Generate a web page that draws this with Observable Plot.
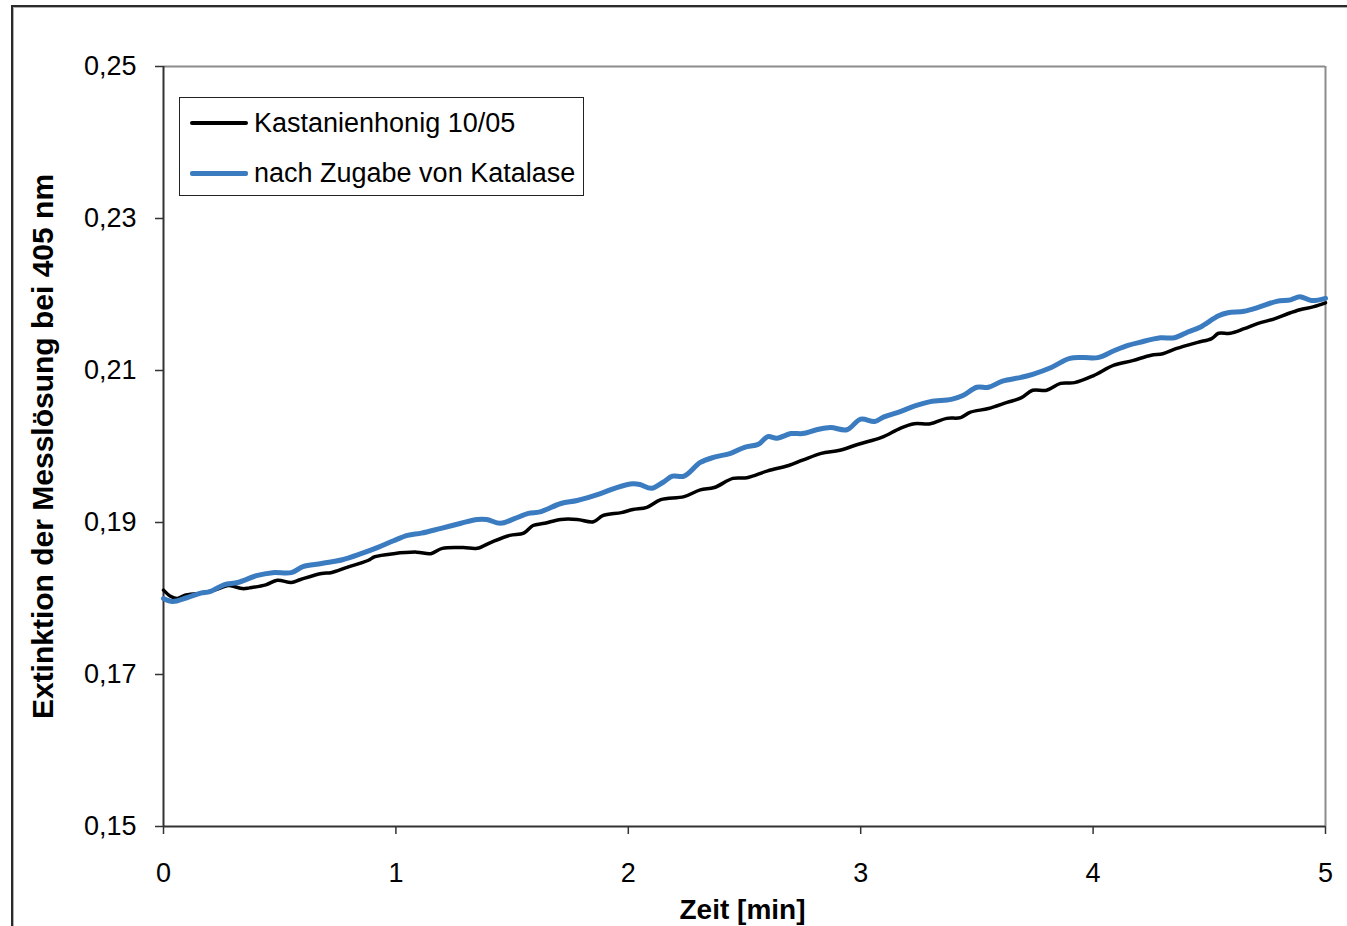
<!DOCTYPE html>
<html>
<head>
<meta charset="utf-8">
<script src="https://cdn.jsdelivr.net/npm/d3@7"></script>
<script src="https://cdn.jsdelivr.net/npm/@observablehq/plot@0.6"></script>
<style>
  html, body { margin: 0; padding: 0; background: #fff; }
  #wrap { position: relative; width: 1347px; height: 926px; overflow: hidden; background: #fff; }
  #outer { position: absolute; left: 11px; top: 5px; width: 1400px; height: 1000px;
           border: 2px solid #2a2a2a; box-shadow: inset 0 0 0 1px #b0b0b0; pointer-events: none; }
  #chart { position: absolute; left: 0; top: 0; }
  #legend { position: absolute; left: 179px; top: 97px; width: 405px; height: 99px;
            border: 1px solid #222; background: #fff; box-sizing: border-box;
            font-family: "Liberation Sans", Arial, sans-serif; font-size: 27px; color: #000; }
  .item { position: absolute; left: 10px; height: 30px; display: flex; align-items: center; }
  .swatch { width: 58px; margin-right: 6px; border-radius: 2px; }
</style>
</head>
<body>
<div id="wrap">
  <div id="chart"></div>
  <div id="legend"></div>
  <div id="outer"></div>
</div>
<script>
// Series labels and colours
const seriesNames = ["Kastanienhonig 10/05", "nach Zugabe von Katalase"];
const seriesColors = ["#000000", "#3b7bc0"];
const seriesWidths = [3.5, 5];

// Axis ticks
const xTicks = [0, 1, 2, 3, 4, 5];
const yTicks = [0.15, 0.17, 0.19, 0.21, 0.23, 0.25];

// Kastanienhonig 10/05: time [min] and extinction at 405 nm
const timeHonig = [0.00, 0.03, 0.06, 0.09, 0.16, 0.22, 0.28, 0.34, 0.37, 0.44, 0.49, 0.55, 0.59, 0.68, 0.72, 0.79, 0.88, 0.91, 0.99, 1.09,
  1.15, 1.20, 1.29, 1.35, 1.41, 1.49, 1.55, 1.59, 1.64, 1.71, 1.78, 1.85, 1.89, 1.97, 2.02, 2.08, 2.14, 2.24, 2.31, 2.37,
  2.45, 2.51, 2.60, 2.69, 2.75, 2.83, 2.91, 2.99, 3.09, 3.17, 3.23, 3.30, 3.37, 3.43, 3.47, 3.55, 3.63, 3.69, 3.74, 3.80,
  3.86, 3.92, 4.00, 4.09, 4.17, 4.25, 4.30, 4.36, 4.45, 4.51, 4.54, 4.59, 4.65, 4.71, 4.78, 4.84, 4.89, 4.95, 5.00];
const extHonig = [0.1811, 0.1803, 0.1800, 0.1804, 0.1807, 0.1811, 0.1817, 0.1813, 0.1814, 0.1818, 0.1824, 0.1821, 0.1825, 0.1833, 0.1834, 0.1841, 0.1850, 0.1855, 0.1859, 0.1861,
  0.1859, 0.1866, 0.1867, 0.1866, 0.1874, 0.1883, 0.1886, 0.1896, 0.1899, 0.1904, 0.1904, 0.1901, 0.1909, 0.1913, 0.1917, 0.1920, 0.1930, 0.1934, 0.1943, 0.1946,
  0.1958, 0.1959, 0.1968, 0.1975, 0.1982, 0.1991, 0.1995, 0.2003, 0.2012, 0.2024, 0.2030, 0.2030, 0.2037, 0.2038, 0.2045, 0.2050, 0.2058, 0.2064, 0.2074, 0.2074,
  0.2083, 0.2084, 0.2093, 0.2107, 0.2113, 0.2120, 0.2122, 0.2129, 0.2137, 0.2142, 0.2149, 0.2149, 0.2155, 0.2162, 0.2168, 0.2175, 0.2180, 0.2184, 0.2189];

// Nach Zugabe von Katalase: time [min] and extinction at 405 nm
const timeKatalase = [0.00, 0.04, 0.10, 0.16, 0.20, 0.26, 0.32, 0.40, 0.47, 0.55, 0.60, 0.68, 0.77, 0.85, 0.92, 0.99, 1.05, 1.11, 1.19, 1.28,
  1.35, 1.39, 1.45, 1.51, 1.57, 1.62, 1.71, 1.78, 1.88, 1.95, 2.02, 2.05, 2.10, 2.15, 2.19, 2.24, 2.31, 2.37, 2.44, 2.50,
  2.56, 2.60, 2.64, 2.70, 2.75, 2.81, 2.87, 2.94, 3.00, 3.06, 3.10, 3.17, 3.23, 3.30, 3.39, 3.44, 3.50, 3.55, 3.61, 3.69,
  3.74, 3.82, 3.90, 3.96, 4.02, 4.09, 4.15, 4.20, 4.29, 4.35, 4.41, 4.46, 4.54, 4.58, 4.65, 4.71, 4.79, 4.85, 4.89, 4.94, 5.00];
const extKatalase = [0.1800, 0.1796, 0.1801, 0.1807, 0.1809, 0.1818, 0.1821, 0.1830, 0.1834, 0.1834, 0.1842, 0.1846, 0.1851, 0.1859, 0.1867, 0.1876, 0.1883, 0.1886, 0.1892, 0.1899,
  0.1904, 0.1904, 0.1899, 0.1905, 0.1912, 0.1914, 0.1925, 0.1929, 0.1938, 0.1946, 0.1951, 0.1950, 0.1945, 0.1953, 0.1961, 0.1961, 0.1979, 0.1986, 0.1991, 0.1999,
  0.2003, 0.2013, 0.2011, 0.2017, 0.2017, 0.2022, 0.2025, 0.2022, 0.2036, 0.2033, 0.2039, 0.2046, 0.2053, 0.2059, 0.2062, 0.2067, 0.2078, 0.2078, 0.2086, 0.2091,
  0.2095, 0.2104, 0.2116, 0.2117, 0.2117, 0.2126, 0.2133, 0.2137, 0.2143, 0.2143, 0.2151, 0.2157, 0.2172, 0.2176, 0.2178, 0.2183, 0.2191, 0.2193, 0.2197, 0.2192, 0.2195];

const honig = timeHonig.map((t, i) => ({t, e: extHonig[i]}));
const katalase = timeKatalase.map((t, i) => ({t, e: extKatalase[i]}));

const comma = d => d.toFixed(2).replace(".", ",");
const font = "'Liberation Sans', Arial, sans-serif";

const chart = Plot.plot({
  width: 1347,
  height: 926,
  marginLeft: 163,
  marginRight: 22,
  marginTop: 66,
  marginBottom: 100,
  x: {domain: [0, 5]},
  y: {domain: [0.15, 0.25]},
  style: {fontFamily: font, fontSize: "27px", color: "#000", background: "transparent", overflow: "visible"},
  marks: [
    // plot area outline: light top and right edges
    Plot.ruleY([0.25], {stroke: "#8c8c8c", strokeWidth: 2}),
    Plot.ruleX([5], {stroke: "#8c8c8c", strokeWidth: 2}),
    Plot.axisY({ticks: yTicks, tickSize: 8, tickPadding: 19, tickFormat: comma, label: null, stroke: "#333", strokeWidth: 1.5, fontSize: 27}),
    Plot.axisX({ticks: xTicks, tickSize: 8, tickPadding: 28, tickFormat: d => String(d), label: null, stroke: "#333", strokeWidth: 1.5, fontSize: 27}),
    Plot.ruleX([0], {stroke: "#333", strokeWidth: 2}),
    Plot.ruleY([0.15], {stroke: "#333", strokeWidth: 2}),
    Plot.line(honig, {x: "t", y: "e", stroke: seriesColors[0], strokeWidth: seriesWidths[0], strokeLinejoin: "round", curve: "catmull-rom"}),
    Plot.line(katalase, {x: "t", y: "e", stroke: seriesColors[1], strokeWidth: seriesWidths[1], strokeLinejoin: "round", curve: "catmull-rom"}),
    // axis titles
    Plot.text(["Extinktion der Messlösung bei 405 nm"], {frameAnchor: "left", dx: -120, rotate: -90, textAnchor: "middle",
      fontWeight: "bold", fontSize: 30, fill: "#000"}),
    Plot.text(["Zeit [min]"], {frameAnchor: "bottom", dy: 84, dx: -2, textAnchor: "middle", lineAnchor: "middle",
      fontWeight: "bold", fontSize: 28, fill: "#000"})
  ]
});
document.getElementById("chart").appendChild(chart);

// Legend box in the upper left of the plot area
const legend = document.getElementById("legend");
seriesNames.forEach((name, i) => {
  const item = document.createElement("div");
  item.className = "item";
  item.style.top = (i === 0 ? 10 : 60) + "px";
  const sw = document.createElement("span");
  sw.className = "swatch";
  sw.style.height = seriesWidths[i] + "px";
  sw.style.background = seriesColors[i];
  const label = document.createElement("span");
  label.textContent = name;
  item.appendChild(sw);
  item.appendChild(label);
  legend.appendChild(item);
});
</script>
</body>
</html>
